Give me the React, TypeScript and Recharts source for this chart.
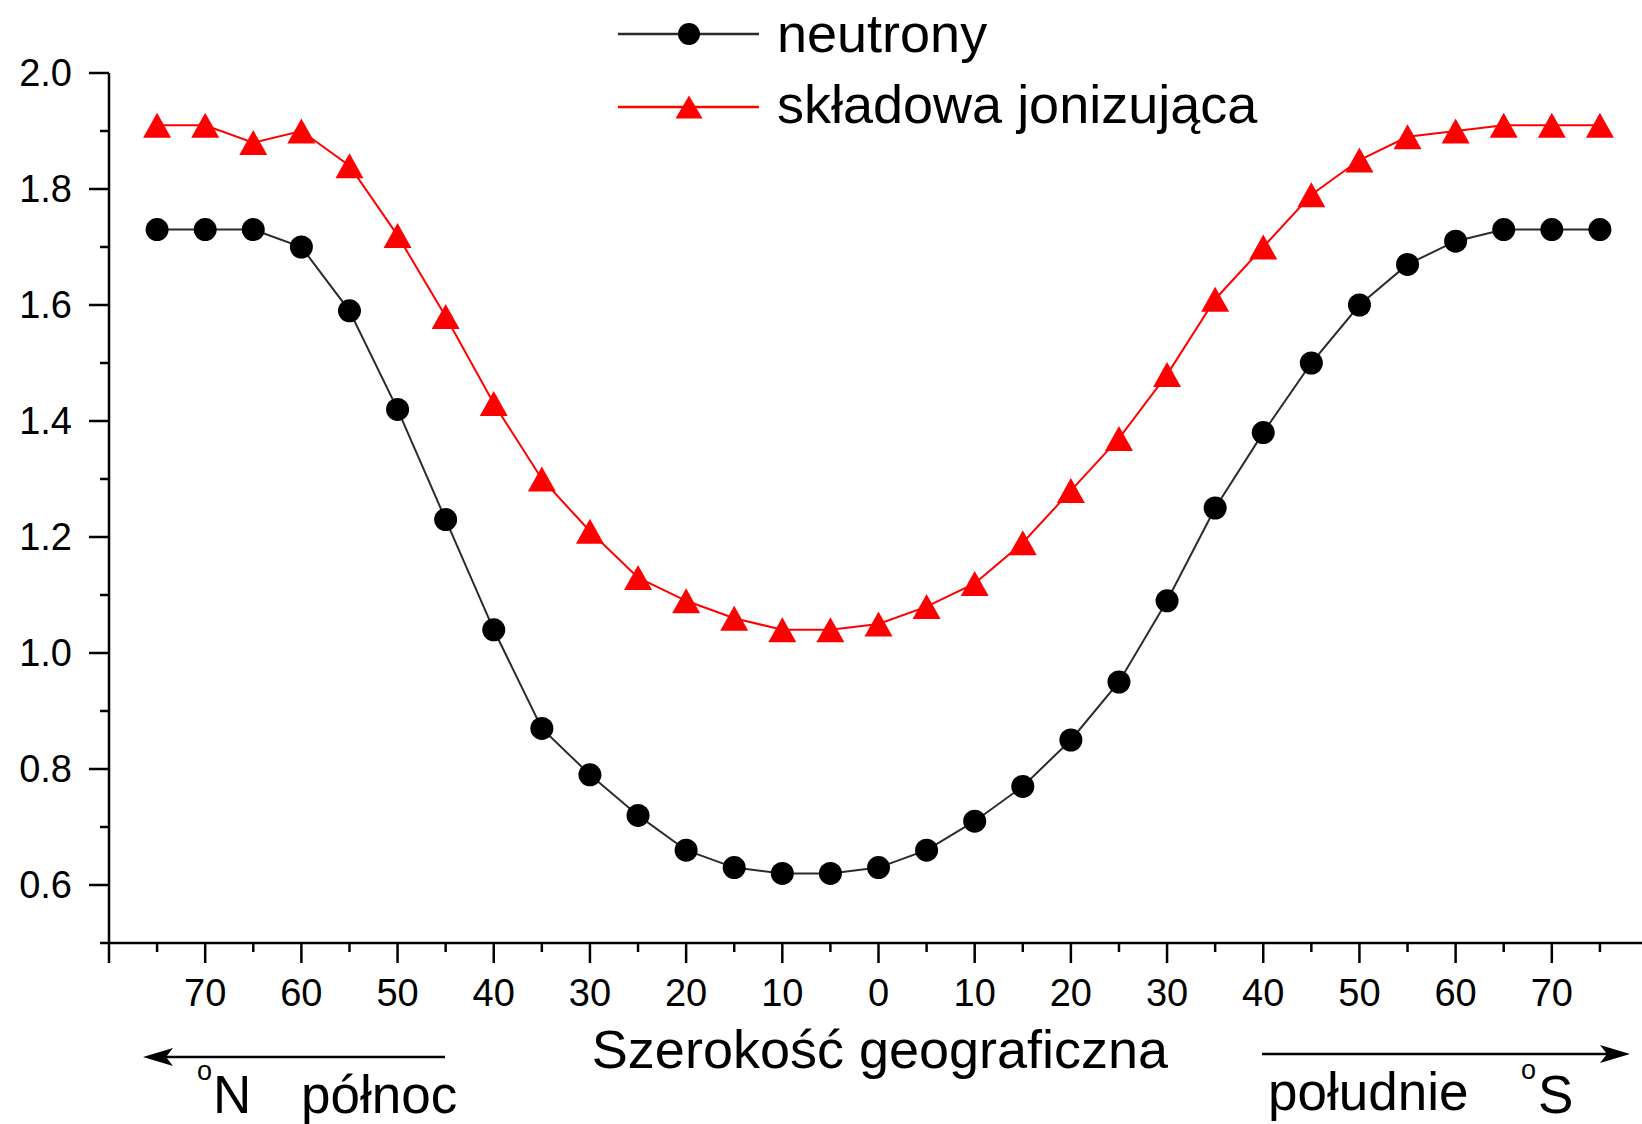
import { LineChart, Line, XAxis, YAxis, Legend, Customized } from "recharts";

const FONT = "'Liberation Sans', Arial, Helvetica, sans-serif";

// szerokość geograficzna: ujemne = północ (N), dodatnie = południe (S)
const LATITUDES = [
  -75, -70, -65, -60, -55, -50, -45, -40, -35, -30, -25, -20, -15, -10, -5, 0,
  5, 10, 15, 20, 25, 30, 35, 40, 45, 50, 55, 60, 65, 70, 75,
];

const NEUTRONS = [
  1.73, 1.73, 1.73, 1.7, 1.59, 1.42, 1.23, 1.04, 0.87, 0.79, 0.72, 0.66, 0.63, 0.62, 0.62, 0.63,
  0.66, 0.71, 0.77, 0.85, 0.95, 1.09, 1.25, 1.38, 1.5, 1.6, 1.67, 1.71, 1.73, 1.73, 1.73,
];

const IONIZING = [
  1.91, 1.91, 1.88, 1.9, 1.84, 1.72, 1.58, 1.43, 1.3, 1.21, 1.13, 1.09, 1.06, 1.04, 1.04, 1.05,
  1.08, 1.12, 1.19, 1.28, 1.37, 1.48, 1.61, 1.7, 1.79, 1.85, 1.89, 1.9, 1.91, 1.91, 1.91,
];

const X_TICKS = [
  -80, -75, -70, -65, -60, -55, -50, -45, -40, -35, -30, -25, -20, -15, -10, -5, 0,
  5, 10, 15, 20, 25, 30, 35, 40, 45, 50, 55, 60, 65, 70, 75, 80,
];

const Y_TICKS = [0.5, 0.6, 0.7, 0.8, 0.9, 1.0, 1.1, 1.2, 1.3, 1.4, 1.5, 1.6, 1.7, 1.8, 1.9, 2.0];

const data = LATITUDES.map((lat, i) => ({
  lat,
  neutrony: NEUTRONS[i],
  jonizujaca: IONIZING[i],
}));

function XTick({ x, y, payload }: any) {
  const v = payload.value;
  const major = v % 10 === 0;
  return (
    <g>
      <line x1={x} x2={x} y1={y} y2={y + (major ? 20 : 9)} stroke="#000" strokeWidth={2.5} />
      {major && Math.abs(v) < 80 && (
        <text x={x} y={y + 63} textAnchor="middle" fontSize={38} fill="#000" fontFamily={FONT}>
          {Math.abs(v)}
        </text>
      )}
    </g>
  );
}

function YTick({ x, y, payload }: any) {
  const v = payload.value;
  const major = Math.round(v * 10) % 2 === 0;
  return (
    <g>
      <line x1={x} x2={x - (major ? 20 : 9)} y1={y} y2={y} stroke="#000" strokeWidth={2.5} />
      {major && (
        <text x={x - 37} y={y + 13} textAnchor="end" fontSize={38} fill="#000" fontFamily={FONT}>
          {v.toFixed(1)}
        </text>
      )}
    </g>
  );
}

function Triangle({ cx, cy, fill, w = 28, h = 25 }: any) {
  if (cx == null || cy == null) return null;
  return (
    <polygon
      points={`${cx},${cy - h / 2} ${cx - w / 2},${cy + h / 2} ${cx + w / 2},${cy + h / 2}`}
      fill={fill}
    />
  );
}

function LegendBox({ payload }: any) {
  const items = payload || [];
  return (
    <svg width={700} height={140} style={{ display: "block" }}>
      {items.map((item: any, i: number) => {
        const y = i === 0 ? 34 : 107;
        const red = item.dataKey === "jonizujaca";
        return (
          <g key={item.value}>
            <line x1={18} x2={159} y1={y} y2={y} stroke={item.color} strokeWidth={2.5} />
            {red ? (
              <Triangle cx={89} cy={y} fill="#ff0000" w={27} h={23} />
            ) : (
              <circle cx={89} cy={y} r={11} fill="#000" />
            )}
            <text x={177} y={i === 0 ? 52 : 123} fontSize={54} fill="#000" fontFamily={FONT}>
              {item.value}
            </text>
          </g>
        );
      })}
    </svg>
  );
}

function Annotations() {
  return (
    <g fontFamily={FONT} fill="#000">
      <text x={880} y={1068} textAnchor="middle" fontSize={54}>
        Szerokość geograficzna
      </text>
      <line x1={165} x2={445} y1={1057} y2={1057} stroke="#000" strokeWidth={2.5} />
      <polygon points="143,1057 173,1048 166,1057 173,1066" fill="#000" />
      <text x={197} y={1080} fontSize={27}>o</text>
      <text x={213} y={1113} fontSize={53}>N</text>
      <text x={301} y={1113} fontSize={53}>północ</text>
      <line x1={1262} x2={1608} y1={1054} y2={1054} stroke="#000" strokeWidth={2.5} />
      <polygon points="1630,1054 1600,1045 1607,1054 1600,1063" fill="#000" />
      <text x={1268} y={1110} fontSize={53}>południe</text>
      <text x={1521} y={1079} fontSize={27}>o</text>
      <text x={1538} y={1113} fontSize={53}>S</text>
    </g>
  );
}

export default function App() {
  return (
    <div
      style={{
        position: "absolute",
        left: 0,
        top: 0,
        width: 1642,
        height: 1124,
        overflow: "hidden",
        background: "#fff",
      }}
    >
      <LineChart width={1650} height={1124} data={data} margin={{ top: 73, right: 2, bottom: 0, left: 0 }}>
        <XAxis
          dataKey="lat"
          type="number"
          domain={[-80, 80]}
          ticks={X_TICKS}
          interval={0}
          height={181}
          tickSize={0}
          tickMargin={0}
          tick={<XTick />}
          axisLine={{ stroke: "#000", strokeWidth: 2.5 }}
          tickLine={false}
        />
        <YAxis
          type="number"
          domain={[0.5, 2.0]}
          ticks={Y_TICKS}
          interval={0}
          width={109}
          tickSize={0}
          tickMargin={0}
          tick={<YTick />}
          axisLine={{ stroke: "#000", strokeWidth: 2.5 }}
          tickLine={false}
          allowDataOverflow
        />
        <Legend
          layout="vertical"
          align="center"
          verticalAlign="middle"
          content={<LegendBox />}
          wrapperStyle={{ left: 600, top: 0, width: 700, height: 140 }}
        />
        <Line
          dataKey="neutrony"
          name="neutrony"
          type="linear"
          stroke="#2b2b2b"
          strokeWidth={2}
          dot={(p: any) => <circle key={`n-${p.index}`} cx={p.cx} cy={p.cy} r={11.5} fill="#000" />}
          activeDot={false}
          isAnimationActive={false}
        />
        <Line
          dataKey="jonizujaca"
          name="składowa jonizująca"
          type="linear"
          stroke="#ff0000"
          strokeWidth={2}
          dot={(p: any) => <Triangle key={`j-${p.index}`} cx={p.cx} cy={p.cy} fill="#ff0000" />}
          activeDot={false}
          isAnimationActive={false}
        />
        <Customized component={<Annotations />} />
      </LineChart>
    </div>
  );
}
